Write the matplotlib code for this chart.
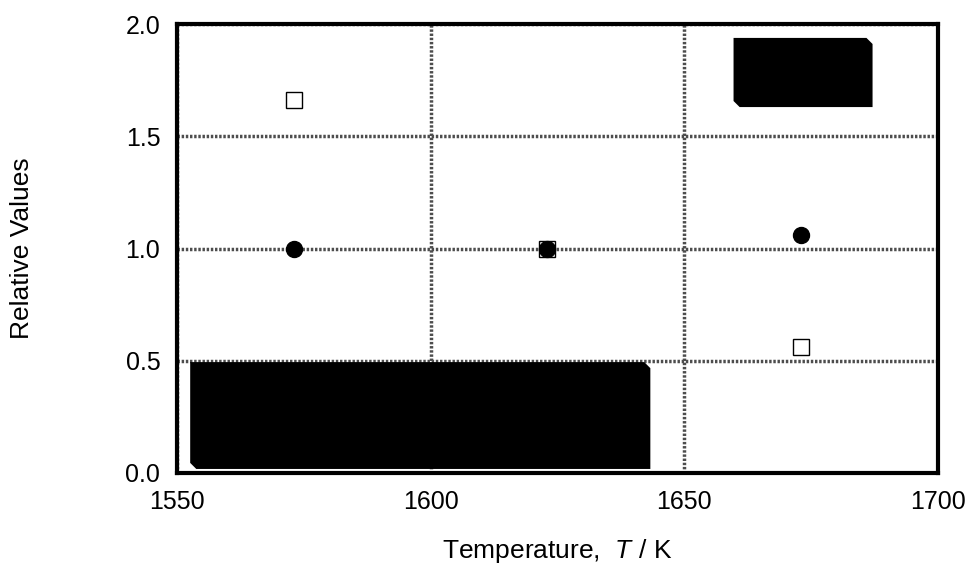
import numpy as np
import matplotlib.pyplot as plt
from matplotlib.patches import Polygon

plt.rcParams['font.family'] = ['Liberation Sans', 'DejaVu Sans']
plt.rcParams['mathtext.fontset'] = 'custom'
plt.rcParams['mathtext.it'] = 'Liberation Sans:italic'
plt.rcParams['mathtext.rm'] = 'Liberation Sans'

# data
temp = [1573, 1623, 1673]
circles = [1.00, 1.00, 1.06]
squares = [1.66, 1.00, 0.56]

# redacted boxes (x0, x1, y0, y1) in data units
boxes = [(1659.7, 1687.1, 1.630, 1.938),
         (1552.6, 1643.3, 0.018, 0.494)]

fig = plt.figure(figsize=(9.75, 5.67), dpi=100)
ax = fig.add_axes([177/975, 1 - 473/567, (938-177)/975, (473-24)/567])

ax.set_xlim(1550, 1700)
ax.set_ylim(0, 2.0)
ax.set_xticks([1550, 1600, 1650, 1700])
ax.set_yticks([0.0, 0.5, 1.0, 1.5, 2.0])
ax.set_yticklabels(['0.0', '0.5', '1.0', '1.5', '2.0'])
ax.tick_params(length=0, labelsize=18, pad=12)
ax.grid(True, color='0.3', linestyle=(0, (0.7, 0.5)), linewidth=2.5)
ax.set_axisbelow(True)
for s in ax.spines.values():
    s.set_linewidth(3)
    s.set_zorder(5)

# clipped-corner boxes
cx, cy = 1.2, 0.027
for x0, x1, y0, y1 in boxes:
    pts = [(x0, y1), (x1 - cx, y1), (x1, y1 - cy), (x1, y0),
           (x0 + cx, y0), (x0, y0 + cy)]
    ax.add_patch(Polygon(pts, closed=True, facecolor='black', edgecolor='none', zorder=3))

ax.plot(temp, squares, 's', ms=12, mfc='white', mec='black', mew=1.0, zorder=4)
ax.plot(temp, circles, 'o', ms=11.5, color='black', zorder=4)

ax.set_ylabel('Relative Values', fontsize=19, labelpad=66)
ax.set_xlabel(r'Temperature,  $\it{T}$ / K', fontsize=19, labelpad=17)

fig.savefig('out.png', dpi=100)
